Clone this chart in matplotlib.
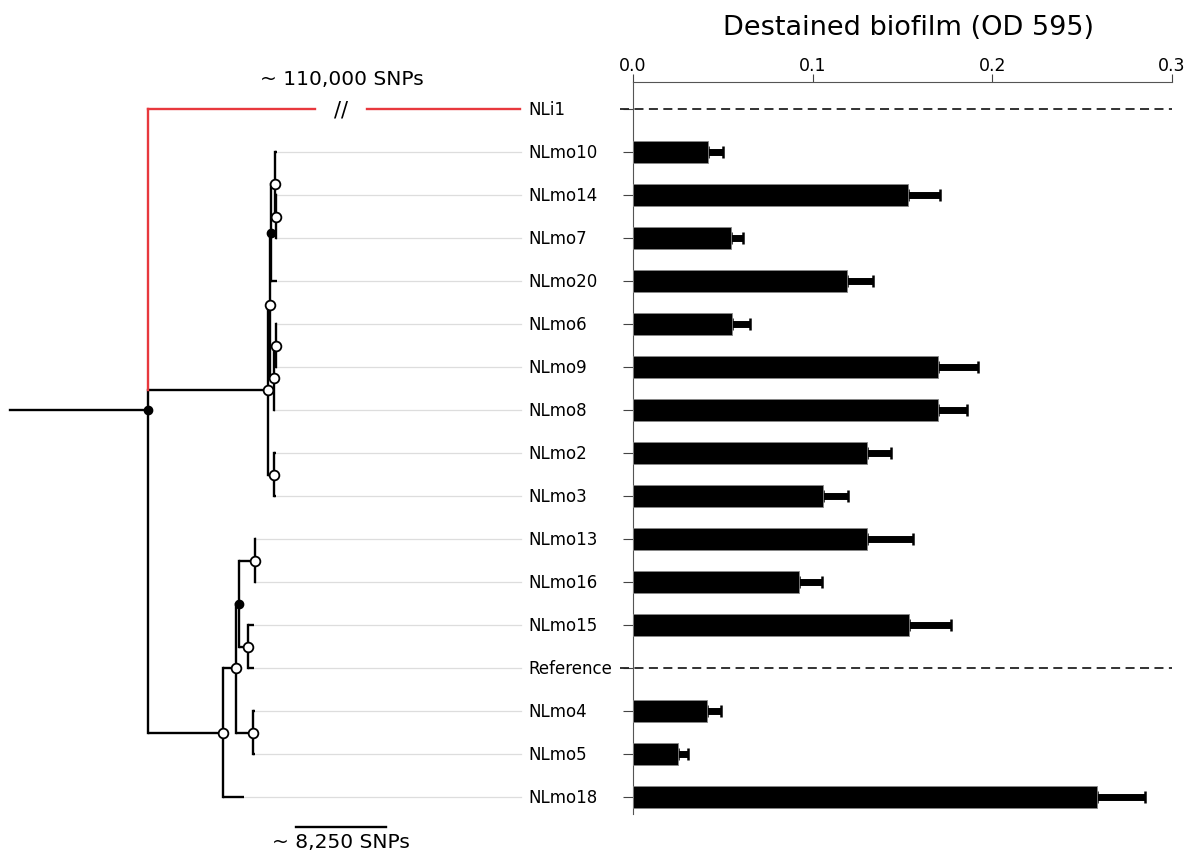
import numpy as np
import matplotlib.pyplot as plt

# strains, top to bottom
leaves = ["NLi1", "NLmo10", "NLmo14", "NLmo7", "NLmo20", "NLmo6", "NLmo9", "NLmo8",
          "NLmo2", "NLmo3", "NLmo13", "NLmo16", "NLmo15", "Reference", "NLmo4",
          "NLmo5", "NLmo18"]
od595 = [np.nan, 0.042, 0.153, 0.0545, 0.119, 0.055, 0.170, 0.170, 0.130, 0.106,
         0.130, 0.0925, 0.1535, np.nan, 0.041, 0.025, 0.258]
od595_err = [np.nan, 0.008, 0.018, 0.007, 0.0145, 0.010, 0.022, 0.016, 0.0135, 0.0135,
             0.026, 0.0128, 0.0235, np.nan, 0.008, 0.0056, 0.027]
dashed_rows = ["NLi1", "Reference"]   # no bar, dashed line instead

# tree: (child, parent, branch length in SNPs)
edges = [
    ("NLi1", "root", 34100),       # drawn shortened, real ~110,000
    ("U", "root", 11000),
    ("U1", "U", 180), ("U2", "U1", 90), ("U3", "U2", 370), ("U4", "U3", 90),
    ("NLmo10", "U3", 180), ("NLmo14", "U4", 90), ("NLmo7", "U4", 90),
    ("NLmo20", "U2", 550),
    ("U5", "U1", 370), ("U6", "U5", 180), ("NLmo6", "U6", 90), ("NLmo9", "U6", 90),
    ("NLmo8", "U5", 90),
    ("U7", "U", 550), ("NLmo2", "U7", 180), ("NLmo3", "U7", 180),
    ("L", "root", 6880),
    ("L1", "L", 1190), ("NLmo18", "L", 1930),
    ("L2", "L1", 275), ("L3", "L1", 1560), ("NLmo4", "L3", 180), ("NLmo5", "L3", 180),
    ("L4", "L2", 1470), ("NLmo13", "L4", 90), ("NLmo16", "L4", 90),
    ("L5", "L2", 825), ("NLmo15", "L5", 550), ("Reference", "L5", 550),
]
root_stem = 12650
filled_nodes = ["root", "U2", "L2"]
scale_snps = 8250

W, H = 1200, 854
fig = plt.figure(figsize=(W / 100, H / 100), dpi=100)

row0, row_step = 110, 43.0
ax_top, ax_bot = 83, 815
ylim = ((ax_bot - row0) / row_step, (ax_top - row0) / row_step)
bottom = 1 - ax_bot / H
height = (ax_bot - ax_top) / H
bar_left, bar_right = 633, 1172

# ---------- bar chart ----------
ax = fig.add_axes([bar_left / W, bottom, (bar_right - bar_left) / W, height])
rows = np.arange(len(leaves))
vals = np.array(od595)
errs = np.array(od595_err)
ok = ~np.isnan(vals)
ax.barh(rows[ok], vals[ok], height=0.51, color="black", edgecolor="#888888", lw=0.6, zorder=3)
ax.errorbar(vals[ok] + errs[ok] / 2, rows[ok], xerr=errs[ok] / 2, fmt="none",
            ecolor="black", elinewidth=5, capsize=0, zorder=2)
ax.errorbar(vals[ok], rows[ok], xerr=[np.zeros(ok.sum()), errs[ok]], fmt="none",
            ecolor="black", elinewidth=0, capsize=4.5, capthick=1.8, zorder=2)
for name in dashed_rows:
    r = leaves.index(name)
    ax.plot([-0.007, 0.3], [r, r], color="#222222", lw=1.3, ls=(0, (5, 3)), clip_on=False)
ax.set_xlim(0, 0.3)
ax.set_ylim(*ylim)
ax.xaxis.tick_top()
ax.set_xticks([0, 0.1, 0.2, 0.3])
ax.set_xticklabels(["0.0", "0.1", "0.2", "0.3"], fontsize=12.5)
ax.set_yticks(rows)
ax.set_yticklabels([])
ax.tick_params(axis="x", length=6, pad=0, color="#444444")
ax.tick_params(axis="y", length=7, color="#444444")
for s in ["right", "bottom"]:
    ax.spines[s].set_visible(False)
for s in ["left", "top"]:
    ax.spines[s].set_color("#555555")
fig.text(909 / W, 1 - 28 / H, "Destained biofilm (OD 595)", fontsize=19.5,
         ha="center", va="center")

# ---------- tree ----------
px_snp = scale_snps / 90.0
axt = fig.add_axes([0, bottom, bar_left / W, height])
axt.set_xlim(-10 * px_snp, (bar_left - 10) * px_snp)
axt.set_ylim(*ylim)
axt.axis("off")

children, blen = {}, {}
for c, p, l in edges:
    children.setdefault(p, []).append(c)
    blen[c] = l
x = {"root": root_stem}
y = {}

def place(n):
    for c in children.get(n, []):
        x[c] = x[n] + blen[c]
        place(c)
    if n in leaves:
        y[n] = leaves.index(n)
    else:
        y[n] = np.mean([y[c] for c in children[n]])

place("root")

lw = 1.7
guide_end = (521 - 10) * px_snp
label_x = (528 - 10) * px_snp
for c, p, l in edges:
    if c == "NLi1":
        continue
    axt.plot([x[p], x[c]], [y[c], y[c]], color="black", lw=lw, solid_capstyle="butt", zorder=3)
for n, kids in children.items():
    if n == "root":
        continue
    ys = [y[k] for k in kids]
    axt.plot([x[n], x[n]], [min(ys), max(ys)], color="black", lw=lw, zorder=3)

# root
axt.plot([0, x["root"]], [y["root"], y["root"]], color="black", lw=lw, zorder=3)
axt.plot([x["root"]] * 2, [y["U"], y["L"]], color="black", lw=lw, zorder=3)
red = "#e8383d"
axt.plot([x["root"]] * 2, [y["NLi1"], y["U"]], color=red, lw=lw, zorder=3)
x0, x1 = x["root"], x["NLi1"]
g0 = x0 + 0.45 * (x1 - x0)
g1 = x0 + 0.59 * (x1 - x0)
axt.plot([x0, g0], [y["NLi1"]] * 2, color=red, lw=lw, zorder=3)
axt.plot([g1, x1], [y["NLi1"]] * 2, color=red, lw=lw, zorder=3)
axt.text((g0 + g1) / 2, y["NLi1"], "//", fontsize=15, ha="center", va="center")
axt.text((g0 + g1) / 2, y["NLi1"] - 0.72, "~ 110,000 SNPs", fontsize=14.5,
         ha="center", va="center")

# guide lines and labels
for n in leaves:
    if n != "NLi1":
        axt.plot([x[n], guide_end], [y[n], y[n]], color="#dddddd", lw=0.9, zorder=1)
    axt.text(label_x, y[n], n, fontsize=12, ha="left", va="center")

# nodes
for n in children:
    if n in filled_nodes:
        axt.plot(x[n], y[n], "o", ms=6, color="black", zorder=5)
    else:
        axt.plot(x[n], y[n], "o", ms=7, mfc="white", mec="black", mew=1.3, zorder=5)

# scale bar
sb_x = (296 - 10) * px_snp
sb_y = (828 - row0) / row_step
axt.plot([sb_x, sb_x + scale_snps], [sb_y, sb_y], color="black", lw=lw, clip_on=False)
axt.text(sb_x + scale_snps / 2, (843 - row0) / row_step, "~ 8,250 SNPs", fontsize=14.5,
         ha="center", va="center", clip_on=False)

fig.savefig("out.png", dpi=100)
